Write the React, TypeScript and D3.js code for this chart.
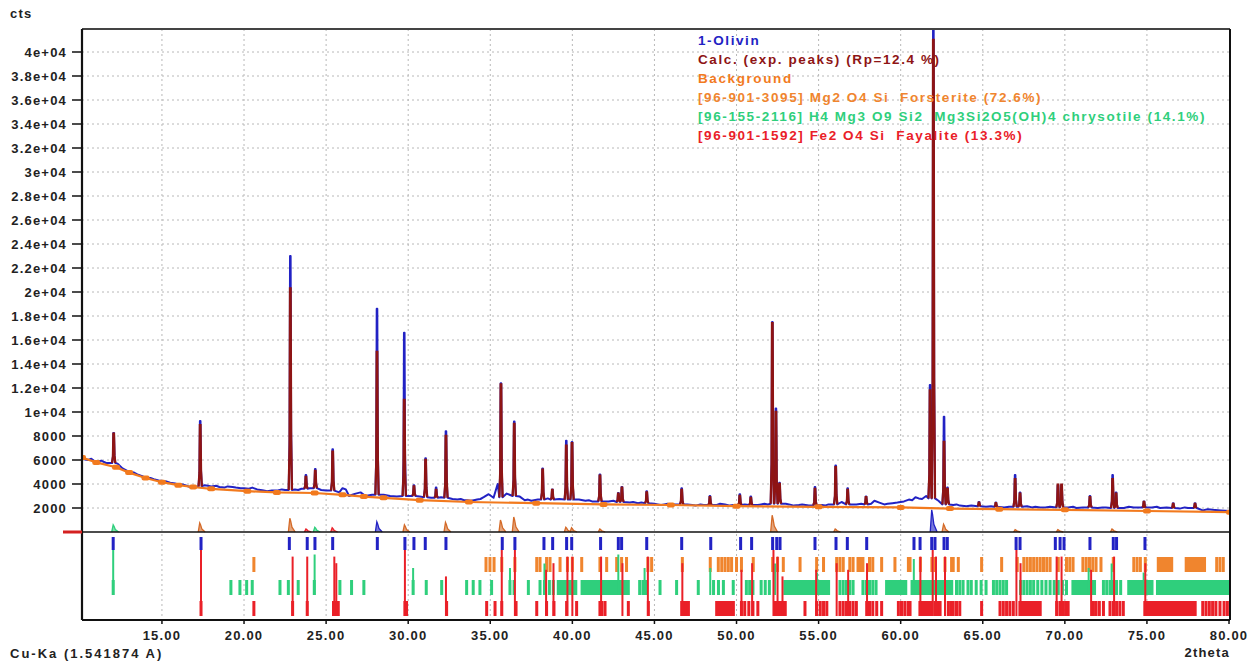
import React from 'react';
import * as d3 from 'd3';

// ---------- DATA ----------
const xTicks = [15, 20, 25, 30, 35, 40, 45, 50, 55, 60, 65, 70, 75, 80];
const xTickLabels = ['15.00', '20.00', '25.00', '30.00', '35.00', '40.00', '45.00', '50.00', '55.00', '60.00', '65.00', '70.00', '75.00', '80.00'];
const yTicks = [2000, 4000, 6000, 8000, 10000, 12000, 14000, 16000, 18000, 20000, 22000, 24000, 26000, 28000, 30000, 32000, 34000, 36000, 38000, 40000];
const yTickLabels = ['2000', '4000', '6000', '8000', '1e+04', '1.2e+04', '1.4e+04', '1.6e+04', '1.8e+04', '2e+04', '2.2e+04', '2.4e+04', '2.6e+04', '2.8e+04', '3e+04', '3.2e+04', '3.4e+04', '3.6e+04', '3.8e+04', '4e+04'];

const legendLabels = [
  '1-Olivin',
  'Calc. (exp. peaks) (Rp=12.4 %)',
  'Background',
  '[96-901-3095] Mg2 O4 Si  Forsterite (72.6%)',
  '[96-155-2116] H4 Mg3 O9 Si2  Mg3Si2O5(OH)4 chrysotile (14.1%)',
  '[96-901-1592] Fe2 O4 Si  Fayalite (13.3%)',
];

// background [2theta, cts]
const background: [number, number][] = [
  [10.13, 6200], [11.0, 5800], [12.2, 5400], [13.0, 4950], [14.0, 4500], [15.0, 4150], [16.0, 3900], [16.9, 3750],
  [18.0, 3600], [20.2, 3400], [22.0, 3300], [24.3, 3250], [26.0, 3100], [27.3, 2950], [28.5, 2850], [30.7, 2650],
  [33.7, 2500], [37.8, 2400], [41.9, 2300], [46.0, 2250], [50.0, 2150], [55.0, 2100], [60.0, 2050], [63.0, 1950],
  [66.0, 1900], [70.0, 1850], [75.0, 1750], [80.06, 1650],
];

// observed counts between peaks [2theta, cts]
const obsBaseline: [number, number][] = [
  [10.13, 6300], [10.3, 6050], [10.5, 6000], [10.7, 6100], [10.9, 5900], [11.1, 5850], [11.3, 5950], [11.6, 5750],
  [12.3, 5700], [12.6, 5300], [12.8, 5150], [13.0, 5000], [13.3, 4950], [13.5, 4800], [13.8, 4650], [14.0, 4500],
  [14.3, 4500], [14.5, 4400], [14.8, 4300], [15.0, 4250], [15.3, 4200], [15.5, 4100], [15.8, 4050], [16.0, 3950],
  [16.3, 3950], [16.5, 3850], [16.8, 3700], [17.0, 3750], [17.6, 3900], [17.8, 3850], [18.0, 3800], [18.3, 3850],
  [18.5, 3750], [18.8, 3700], [19.0, 3800], [19.3, 3750], [19.5, 3700], [19.8, 3650], [20.0, 3650], [20.3, 3600],
  [20.5, 3700], [20.8, 3550], [21.0, 3500], [21.2, 3450], [21.4, 3400], [21.7, 3450], [22.0, 3450], [22.3, 3550],
  [22.5, 3500], [23.1, 3550], [23.3, 3500], [23.5, 3600], [24.0, 3650], [24.7, 3500], [25.0, 3450], [25.8, 3300],
  [26.0, 3650], [26.2, 3550], [26.4, 3000], [26.6, 3100], [26.8, 3200], [27.1, 3300], [27.4, 3000], [27.8, 3100],
  [28.5, 3100], [28.9, 3000], [29.3, 2950], [30.1, 3000], [30.7, 2950], [31.4, 2850], [32.0, 2900], [32.7, 2750],
  [33.0, 2700], [33.2, 2750], [33.4, 2650], [33.6, 2650], [33.8, 2600], [34.0, 2650], [34.2, 2700], [34.4, 2750],
  [34.6, 2900], [34.9, 3150], [35.2, 2850], [35.45, 4000], [36.0, 3200], [36.8, 2950], [37.1, 2650], [37.3, 2700],
  [37.5, 2600], [37.9, 2700], [38.5, 2800], [39.2, 2750], [40.4, 2700], [40.8, 2600], [41.0, 2650], [41.2, 2550],
  [42.2, 2550], [42.5, 2600], [43.5, 2450], [43.7, 2500], [44.0, 2400], [44.2, 2450], [45.0, 2350], [45.2, 2300],
  [45.4, 2250], [45.6, 2300], [45.8, 2350], [46.0, 2250], [46.2, 2300], [47.0, 2300], [47.3, 2250], [47.5, 2200],
  [47.8, 2300], [48.0, 2250], [48.8, 2250], [49.0, 2350], [49.3, 2300], [49.6, 2200], [49.8, 2250], [50.5, 2300],
  [51.3, 2250], [51.5, 2300], [51.7, 2350], [51.9, 2300], [53.0, 2350], [53.2, 2300], [53.5, 2200], [53.8, 2250],
  [54.0, 2300], [54.4, 2200], [55.2, 2250], [55.4, 2200], [55.6, 2300], [56.4, 2500], [57.3, 2300], [57.6, 2350],
  [58.2, 2350], [58.4, 2600], [58.7, 2450], [59.0, 2300], [59.2, 2350], [59.5, 2400], [59.8, 2450], [60.0, 2500],
  [60.2, 2550], [60.5, 2700], [60.7, 2650], [60.9, 2900], [61.1, 2800], [61.3, 2750], [61.55, 3000], [62.3, 2600],
  [63.2, 2250], [63.4, 2300], [63.6, 2200], [64.0, 2150], [64.3, 2200], [65.2, 2100], [65.5, 2150], [66.3, 2050],
  [66.6, 2100], [67.7, 2150], [68.0, 2050], [68.2, 2100], [68.5, 2050], [68.8, 2050], [69.1, 2100], [70.2, 2050],
  [70.5, 2100], [70.7, 2000], [71.1, 2050], [72.0, 2000], [72.3, 2050], [72.5, 2050], [73.6, 2000], [73.9, 2100],
  [74.2, 2050], [75.3, 2050], [75.6, 2100], [75.8, 2000], [76.2, 2050], [77.0, 1950], [77.3, 2050], [77.5, 2000],
  [78.4, 1800], [78.7, 1900], [79.0, 1850], [79.5, 1800], [80.06, 1750],
];

// peaks [2theta, base cts, observed cts, calculated cts]
const peaks: [number, number, number, number][] = [
  [12.06, 5750, 8250, 8200], [17.33, 3800, 9250, 8900], [22.82, 3500, 23000, 20300], [23.77, 3600, 4750, 4600],
  [24.34, 3650, 5250, 5100], [25.40, 3450, 6900, 6700], [28.10, 3100, 18600, 15000], [29.76, 3000, 16600, 11000],
  [30.35, 3000, 3900, 3800], [31.06, 2900, 6150, 6000], [31.70, 2850, 3700, 3500], [32.30, 2850, 8400, 8000],
  [35.65, 2900, 12400, 12300], [36.46, 3000, 9200, 9000], [38.19, 2700, 5300, 5200], [38.78, 2700, 3550, 3500],
  [39.63, 2700, 7600, 7200], [39.98, 2700, 7500, 7400], [41.68, 2550, 4800, 4700], [42.80, 2500, 3250, 3200],
  [43.02, 2500, 3750, 3700], [44.53, 2400, 3400, 3300], [46.66, 2300, 3650, 3500], [48.38, 2250, 3000, 2900],
  [50.20, 2250, 3150, 3000], [50.87, 2250, 2950, 2850], [52.18, 2350, 17500, 17400], [52.40, 2350, 10300, 10000],
  [52.62, 2350, 4100, 4000], [54.78, 2200, 3750, 3600], [56.04, 2300, 5550, 5400], [56.77, 2300, 3650, 3500],
  [57.89, 2300, 2950, 2900], [61.79, 2800, 12250, 11800], [61.99, 2800, 43000, 41000], [62.64, 2300, 9600, 7500],
  [62.85, 2300, 3700, 3600], [64.77, 2150, 2500, 2450], [65.80, 2100, 2450, 2400], [66.97, 2100, 4750, 4400],
  [67.27, 2100, 3300, 3200], [69.58, 2050, 3900, 3950], [69.80, 2050, 3900, 3950], [71.53, 2050, 3000, 2900],
  [72.91, 2000, 4750, 4400], [73.12, 2000, 3300, 3200], [74.82, 2050, 2550, 2500], [76.60, 2000, 2400, 2350],
  [77.93, 2000, 2400, 2350],
];

// difference spikes above zero [2theta, cts]
const diffOrange: [number, number][] = [
  [17.33, 750], [22.82, 1150], [29.8, 600], [32.3, 800], [35.65, 1000], [36.46, 1250], [39.63, 400], [39.98, 350],
  [41.7, 250], [52.2, 1400], [56.04, 250], [62.64, 650], [67.0, 200], [69.6, 200], [72.9, 250],
];
const diffGreen: [number, number][] = [[12.06, 600], [24.34, 400]];
const diffRed: [number, number][] = [[23.8, 250], [25.4, 350]];
const diffBlue: [number, number][] = [[28.12, 850], [61.92, 1850]];

// reflection markers
const olivinTicks = [12.03, 17.38, 22.76, 23.85, 24.32, 25.40, 28.12, 29.80, 30.35, 31.04, 32.30, 35.73, 36.50, 38.27, 38.80,
  39.65, 39.96, 41.72, 42.80, 43.00, 44.53, 46.66, 48.43, 50.25, 50.92, 52.20, 52.45, 52.65, 54.78, 56.06, 56.75, 57.93,
  60.81, 61.18, 61.89, 62.09, 62.64, 62.84, 67.03, 67.27, 69.42, 69.71, 69.95, 71.53, 72.95, 73.15, 74.88];

const forsteriteTicks = [20.6, 34.74, 34.98, 35.23, 35.7, 36.5, 37.83, 38.03, 38.43, 38.64, 39.25, 39.7, 40.0, 40.57, 41.68,
  42.09, 42.7, 43.0, 43.3, 44.6, 44.83, 46.7, 48.4, 48.89, 49.1, 49.3, 49.5, 49.7, 50.0, 50.3, 51.02, 52.2, 52.5, 52.85,
  53.87, 54.88, 55.3, 56.1, 56.3, 56.5, 56.9, 57.1, 57.4, 57.55, 57.7, 58.1, 58.3, 58.84, 59.65, 60.47, 60.57, 61.2, 61.9,
  62.1, 62.7, 63.1, 63.2, 63.51, 64.93, 66.15, 67.1, 67.5, 67.7, 67.9, 68.1, 68.3, 68.5, 68.7, 68.9, 69.1, 69.6, 70.1, 70.3,
  70.5, 71.1, 71.3, 71.5, 71.7, 71.9, 72.2, 72.95, 74.2, 74.4, 74.6, 74.9, 79.25, 79.45, 79.65];
const forsteriteBands: [number, number][] = [[75.6, 76.6], [77.3, 78.6]];

const chrysotileTicks = [12.03, 19.2, 19.75, 20.16, 20.5, 22.19, 22.7, 23.3, 24.28, 25.84, 26.55, 27.3, 30.3, 31.1, 32.04,
  33.56, 33.96, 34.37, 35.08, 36.2, 36.45, 37.32, 38.03, 38.3, 38.6, 38.84, 44.1, 44.3, 44.5, 45.34, 46.35, 47.67, 48.6,
  48.9, 49.2, 49.8, 50.6, 50.8, 51.0, 51.5, 51.75, 52.0, 56.3, 56.5, 56.7, 56.9, 57.1, 57.7, 57.9, 58.1, 58.3, 58.5, 63.4,
  63.6, 63.8, 64.1, 64.3, 64.6, 64.9, 65.2, 65.65, 65.85, 66.05, 66.25, 66.45, 67.3, 67.5, 67.7, 67.9, 68.1, 68.35, 68.6,
  68.85, 69.1, 69.35, 69.6, 69.85, 70.1, 72.35, 72.55, 72.75, 72.95, 73.15, 73.4];
const chrysotileBands: [number, number][] = [[39.05, 40.3], [40.5, 43.5], [52.85, 55.7], [59.05, 60.4], [60.6, 63.2],
  [70.4, 71.9], [73.8, 75.4], [75.55, 80.0]];

const fayaliteTicks = [17.38, 20.6, 22.96, 23.85, 25.45, 25.55, 25.65, 25.74, 29.8, 29.9, 32.34, 34.78, 35.29, 35.7, 36.57,
  37.83, 38.43, 38.88, 39.65, 40.26, 41.68, 41.8, 41.99, 43.41, 44.63, 46.66, 46.8, 46.95, 47.07, 50.3, 50.5, 50.75, 51.0,
  51.3, 54.17, 54.88, 55.1, 55.3, 55.5, 56.3, 56.5, 56.7, 56.9, 57.1, 57.3, 57.93, 58.1, 58.3, 58.54, 58.84, 59.86, 60.05,
  60.25, 60.45, 60.57, 62.1, 62.25, 62.4, 62.9, 63.05, 63.2, 63.4, 63.6, 64.93, 66.05, 66.25, 66.45, 66.65, 66.86, 69.5,
  69.7, 69.9, 70.05, 70.2, 71.74, 71.9, 72.1, 72.35, 72.75, 72.95, 73.15, 73.35, 73.56, 78.4, 78.6, 78.8, 79.0, 79.2,
  79.45, 79.7, 79.9];
const fayaliteBands: [number, number][] = [[48.7, 49.9], [52.24, 53.06], [61.08, 62.0], [67.17, 68.59], [74.78, 78.03]];

// strong reflections [2theta, relative intensity]
const fayaliteStrong: [number, number][] = [[17.38, 1], [22.96, 0.9], [23.85, 0.9], [25.5, 0.9], [25.62, 0.8], [29.8, 1],
  [32.3, 0.6], [35.7, 1], [36.5, 1], [38.4, 0.7], [38.85, 0.8], [39.7, 0.9], [40.0, 0.9], [41.75, 0.9], [43.05, 0.8],
  [44.6, 0.9], [46.7, 0.8], [50.3, 0.7], [50.95, 0.8], [52.25, 1], [52.5, 0.9], [52.8, 0.6], [54.85, 0.7], [56.1, 0.8],
  [56.8, 0.7], [57.95, 0.8], [61.2, 0.9], [61.95, 1], [62.15, 0.9], [62.7, 0.9], [67.05, 1], [67.3, 0.8], [69.5, 0.9],
  [69.8, 0.9], [71.6, 0.7], [73.0, 0.9], [74.9, 0.8]];
const chrysotileStrong: [number, number][] = [[12.03, 1], [24.3, 0.9], [30.3, 0.6], [36.2, 0.6], [38.3, 0.7], [42.8, 0.9],
  [44.4, 0.6], [48.4, 0.6], [52.35, 0.7], [54.9, 0.5], [60.8, 0.8], [62.7, 0.6], [71.45, 0.6], [72.85, 0.7], [74.8, 0.5]];

// ---------- LAYOUT / STYLE ----------
const W = 1258, H = 664;
const L = 82, R = 1230, T = 29, B = 620;
const C = {
  obs: '#2222c4', calc: '#8e1414', bg: '#f27a1e', fors: '#f0852e', chry: '#2fcf7c', fay: '#ea2028', grid: '#b8b8b8',
};
const FONT = '"Liberation Sans", Arial, sans-serif';

export default function App() {
  const x = d3.scaleLinear().domain([10.13, 80.06]).range([L, R]);
  const y = d3.scaleLinear().domain([0, 40000]).range([532, 52]);
  const y0 = y(0);
  const line = d3.line<[number, number]>().x(d => x(d[0])).y(d => y(d[1]));

  const spike = (p: number, base: number, h: number): [number, number][] => [
    [p - 0.1, base], [p - 0.045, base + 0.22 * (h - base)], [p - 0.018, h], [p + 0.018, h],
    [p + 0.05, base + 0.25 * (h - base)], [p + 0.1, base],
  ];

  const obsPts: [number, number][] = obsBaseline
    .filter(([t]) => !peaks.some(([p]) => Math.abs(t - p) < 0.11))
    .concat(peaks.flatMap(([p, b, o]) => spike(p, b, o)))
    .sort((a, b) => a[0] - b[0]);

  const rows = { oli: [537, 550], fors: [557, 572], chry: [580, 595], fay: [601, 616] };

  const tickRects = (ticks: number[], row: number[], color: string, w: number, key: string) =>
    ticks.map((t, i) => (
      <rect key={key + i} x={x(t) - w / 2} y={row[0]} width={w} height={row[1] - row[0]} fill={color} />
    ));
  const bandRects = (bands: [number, number][], row: number[], color: string, key: string) =>
    bands.map(([a, b], i) => (
      <rect key={key + i} x={x(a)} y={row[0]} width={x(b) - x(a)} height={row[1] - row[0]} fill={color} />
    ));
  const strong = (list: [number, number][], row: number[], color: string, key: string) =>
    list.map(([t, r], i) => (
      <line key={key + i} x1={x(t)} x2={x(t)} y1={row[1]} y2={row[1] - r * (row[1] - 550)} stroke={color} strokeWidth={2} />
    ));
  const diffSpikes = (list: [number, number][], color: string, key: string) =>
    list.map(([t, v], i) => (
      <path key={key + i}
        d={line([[t - 0.12, 0], [t - 0.03, v], [t + 0.02, v * 0.8], [t + 0.1, v * 0.35], [t + 0.3, 0]])!}
        fill={color} fillOpacity={0.6} stroke={color} strokeWidth={1.3} />
    ));

  const textStyle: React.CSSProperties = { fontFamily: FONT, fontWeight: 700, fontSize: 13, letterSpacing: 1.2 };
  const legendColors = [C.obs, C.calc, C.bg, C.fors, C.chry, C.fay];

  return (
    <svg width={W} height={H} style={{ position: 'absolute', left: 0, top: 0, background: '#fff' }}>
      <defs>
        <clipPath id="plot"><rect x={L} y={T} width={R - L} height={B - T} /></clipPath>
      </defs>
      <rect x={0} y={0} width={W} height={H} fill="#fff" />
      {/* grid */}
      {xTicks.slice(0, -1).map(t => (
        <line key={'gx' + t} x1={x(t)} x2={x(t)} y1={T} y2={B} stroke={C.grid} strokeWidth={1} strokeDasharray="2,3" />
      ))}
      {yTicks.map(v => (
        <line key={'gy' + v} x1={L} x2={R} y1={y(v)} y2={y(v)} stroke={C.grid} strokeWidth={1} strokeDasharray="2,3" />
      ))}

      <g clipPath="url(#plot)">
        {/* reflection marker rows */}
        {bandRects(chrysotileBands, rows.chry, C.chry, 'cb')}
        {tickRects(chrysotileTicks, rows.chry, C.chry, 3, 'ct')}
        {bandRects(forsteriteBands, rows.fors, C.fors, 'fb')}
        {tickRects(forsteriteTicks, rows.fors, C.fors, 3, 'ft')}
        {bandRects(fayaliteBands, rows.fay, C.fay, 'yb')}
        {tickRects(fayaliteTicks, rows.fay, C.fay, 3, 'yt')}
        {strong(chrysotileStrong, rows.chry, C.chry, 'cs')}
        {strong(fayaliteStrong, rows.fay, C.fay, 'ys')}
        {tickRects(olivinTicks, rows.oli, C.obs, 3, 'ot')}

        {/* difference curve */}
        {diffSpikes(diffOrange, '#d46a28', 'do')}
        {diffSpikes(diffGreen, C.chry, 'dg')}
        {diffSpikes(diffRed, C.fay, 'dr')}
        {diffSpikes(diffBlue, C.obs, 'db')}
        <line x1={L} x2={R} y1={y0} y2={y0} stroke="#111" strokeWidth={1.6} />

        {/* observed */}
        <path d={line(obsPts)!} fill="none" stroke={C.obs} strokeWidth={2} strokeLinejoin="round" />
        {/* calculated */}
        {peaks.map(([p, b, , c], i) => (
          <path key={'calc' + i} d={line(spike(p, b, c))!} fill="none" stroke={C.calc} strokeWidth={2.3} />
        ))}
        {/* background */}
        <path d={line(background)!} fill="none" stroke={C.bg} strokeWidth={2.2} />
        {background.map(([t, v], i) => (
          <rect key={'bm' + i} x={x(t) - 4} y={y(v) - 2.5} width={8} height={5} rx={2} fill={C.bg} />
        ))}
      </g>

      {/* frame */}
      <line x1={L} x2={R} y1={T} y2={T} stroke="#444" strokeWidth={2} />
      <line x1={R} x2={R} y1={T} y2={B} stroke="#111" strokeWidth={2} />
      <line x1={L} x2={R} y1={B} y2={B} stroke="#111" strokeWidth={2} />
      <line x1={L} x2={L} y1={T} y2={B} stroke="#111" strokeWidth={2.2} />
      <line x1={63} x2={L} y1={y0} y2={y0} stroke="#d42020" strokeWidth={3} />

      {/* y axis */}
      {yTicks.map((v, i) => (
        <g key={'yt' + v}>
          <line x1={72} x2={L} y1={y(v)} y2={y(v)} stroke="#111" strokeWidth={1.5} />
          <text x={67} y={y(v)} dy="0.35em" textAnchor="end" style={textStyle} fill="#222">{yTickLabels[i]}</text>
        </g>
      ))}
      {/* x axis */}
      {xTicks.map((t, i) => (
        <g key={'xt' + t}>
          <line x1={x(t)} x2={x(t)} y1={B} y2={B + 4} stroke="#111" strokeWidth={1.5} />
          <text x={x(t)} y={635} dy="0.35em" textAnchor="middle" style={textStyle} fill="#222">{xTickLabels[i]}</text>
        </g>
      ))}

      <text x={10} y={18} style={textStyle} fill="#222">cts</text>
      <text x={10} y={658} style={{ ...textStyle, letterSpacing: 2 }} fill="#222">Cu-Ka (1.541874 A)</text>
      <text x={1230} y={657} textAnchor="end" style={textStyle} fill="#222">2theta</text>

      {/* legend */}
      {legendLabels.map((s, i) => (
        <text key={'lg' + i} x={698} y={45 + i * 18.9}
          style={{ ...textStyle, fontSize: 13.5, letterSpacing: 1.6, whiteSpace: 'pre' }} fill={legendColors[i]}>{s}</text>
      ))}
    </svg>
  );
}
